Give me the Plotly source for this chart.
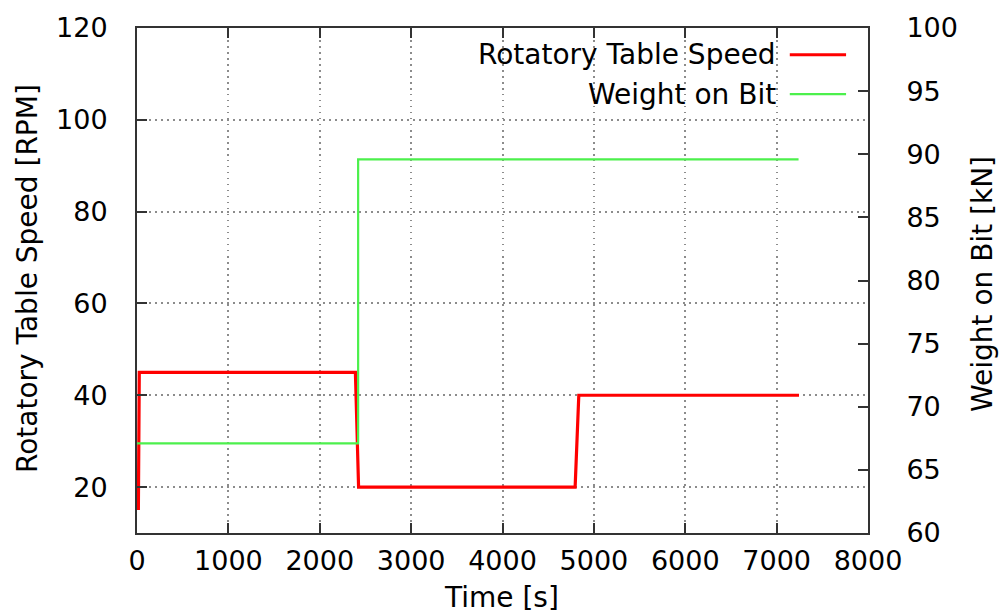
import plotly.graph_objects as go

# Time series (seconds) for the drilling parameters
speed_time = [15, 25, 2390, 2425, 4795, 4835, 7245]
speed_rpm = [15, 45, 45, 20, 20, 40, 40]

wob_time = [0, 2420, 2420, 7240]
wob_kn = [67.1, 67.1, 89.6, 89.6]

x_ticks = [0, 1000, 2000, 3000, 4000, 5000, 6000, 7000, 8000]
left_ticks = [20, 40, 60, 80, 100, 120]
right_ticks = [60, 65, 70, 75, 80, 85, 90, 95, 100]

series_names = ["Rotatory Table Speed", "Weight on Bit"]
axis_titles = ["Time [s]", "Rotatory Table Speed [RPM]", "Weight on Bit [kN]"]
red = "#ff0000"
green = "#4cf04c"
FONT = "DejaVu Sans"
FS_TICK = 27
FS_TEXT = 28

fig = go.Figure()
fig.add_trace(go.Scatter(x=speed_time, y=speed_rpm, mode="lines", name=series_names[0],
                         line=dict(color=red, width=3.2), yaxis="y"))
fig.add_trace(go.Scatter(x=wob_time, y=wob_kn, mode="lines", name=series_names[1],
                         line=dict(color=green, width=2.2), yaxis="y2"))

grid = dict(showgrid=True, gridcolor="#8c8c8c", griddash="1.5px,4.5px", gridwidth=1.5)
tickfont = dict(family=FONT, size=FS_TICK, color="black")
textfont = dict(family=FONT, size=FS_TEXT, color="black")
fig.update_layout(
    width=1006, height=616,
    margin=dict(l=137, r=138, t=20, b=83),
    paper_bgcolor="white", plot_bgcolor="white",
    font=dict(family=FONT, size=FS_TICK, color="black"),
    showlegend=False,
    xaxis=dict(range=[0, 8000], tickvals=x_ticks, ticks="inside", ticklen=10, tickwidth=2,
               tickcolor="#333", showline=True, linecolor="#333", linewidth=2,
               mirror="ticks", zeroline=False, **grid, tickfont=tickfont,
               ticklabelstandoff=3),
    yaxis=dict(range=[10, 120], tickvals=left_ticks, ticks="inside", ticklen=10, tickwidth=2,
               tickcolor="#333", showline=True, linecolor="#333", linewidth=2,
               zeroline=False, **grid, ticklabelstandoff=22, tickfont=tickfont),
    yaxis2=dict(range=[60, 100], tickvals=right_ticks, overlaying="y", side="right",
                ticks="inside", ticklen=10, tickwidth=2, tickcolor="#333",
                showline=True, linecolor="#333", linewidth=2, showgrid=False,
                zeroline=False, ticklabelstandoff=31, tickfont=tickfont),
)

# Axis titles
fig.add_annotation(xref="paper", yref="paper", x=0.4993, y=-0.127, text=axis_titles[0],
                   showarrow=False, xanchor="center", yanchor="middle", font=textfont)
fig.add_annotation(xref="paper", yref="paper", x=-0.149, y=0.503, text=axis_titles[1],
                   showarrow=False, xanchor="center", yanchor="middle", textangle=-90,
                   font=textfont)
fig.add_annotation(xref="paper", yref="paper", x=1.156, y=0.493, text=axis_titles[2],
                   showarrow=False, xanchor="center", yanchor="middle", textangle=-90,
                   font=textfont)

# Key in the upper right corner: label text followed by a line sample
rows = [(series_names[0], red, 3.2, 0.947), (series_names[1], green, 2.2, 0.869)]
for name, col, w, yy in rows:
    fig.add_annotation(xref="paper", yref="paper", x=0.877, y=yy, text=name,
                       showarrow=False, xanchor="right", yanchor="middle",
                       font=textfont)
    fig.add_shape(type="line", xref="paper", yref="paper", x0=0.893, x1=0.97,
                  y0=yy, y1=yy, line=dict(color=col, width=w))

fig.write_html("out.html")
